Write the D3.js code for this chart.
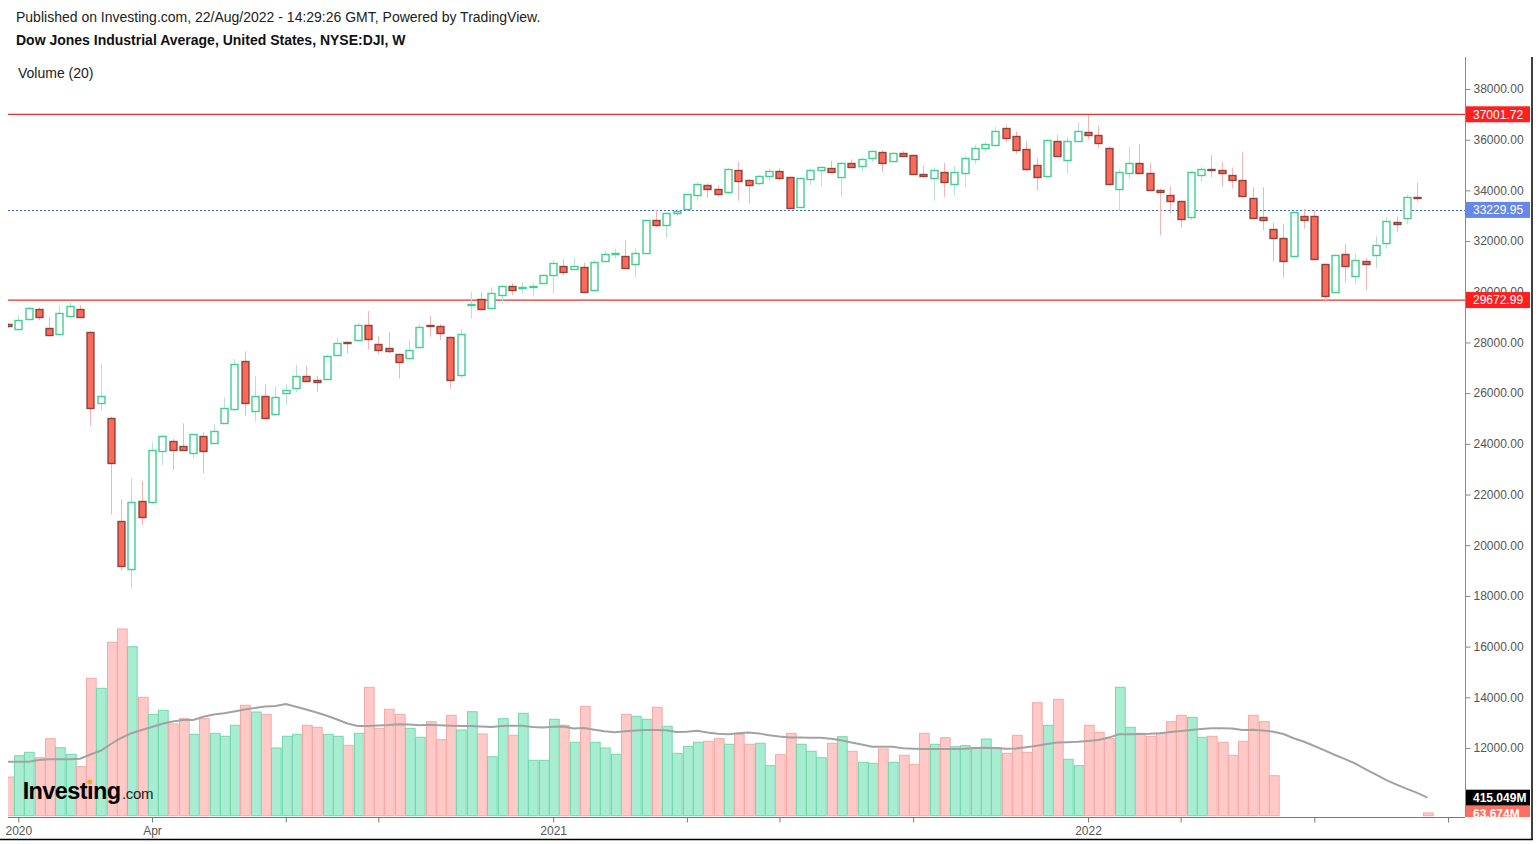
<!DOCTYPE html>
<html>
<head>
<meta charset="utf-8">
<script src="https://cdn.jsdelivr.net/npm/d3@7"></script>
<style>
  html, body { margin: 0; padding: 0; background: #fff; }
  svg { display: block; font-family: Arial, "Liberation Sans", sans-serif; }
</style>
</head>
<body>
<svg id="chart" width="1540" height="844"></svg>
<script>
// weekly bars from Dec 30 2019 to Aug 22 2022 (the first one is half cut at the left edge)
const weeks = d3.timeMonday.range(new Date(2019, 11, 30), new Date(2022, 7, 23));

// OHLC, one value per week (Dec 30 2019 .. Aug 15 2022)
const openVals = [28710,28503,28914,29308,28559,28322,29044,29320,28425,25623,25008,20968,19050,21733,21705,23706,24124,23903,23627,24298,
  24061,24811,25363,27280,25308,25900,25177,26018,26231,26689,26500,26547,27533,28006,28097,28701,27939,27770,27533,27387,
  27833,28690,28650,28204,26728,29466,29700,29348,29872,30240,30149,30190,30334,30634,31028,30898,30989,30058,31214,31478,
  31399,31084,31518,32820,32622,33120,33254,33790,34201,34055,33924,34804,34422,34264,34579,34777,34516,33333,34449,34792,
  34871,34540,35092,34974,35250,35526,35171,35487,35396,34666,34457,34737,34272,34670,35219,35672,35806,36446,36126,35633,
  35005,34579,35952,35219,35952,36311,36193,35672,34047,34686,35100,34698,34031,33830,33565,32966,34631,34844,34792,34607,
  34390,33700,32938,32484,32125,31431,32978,32989,31084,29991,31498,30630,31218,31482,31952,32764,32910,33750];
const highVals = [28770,29083,29411,29387,28993,29478,29584,29478,28440,27150,25071,21812,22641,22534,24061,24340,24191,24811,24400,24455,
  24755,25836,27347,27651,26665,26349,26270,26349,27111,27071,26677,27505,28204,28030,28795,29241,28267,28401,27560,28097,
  28728,29044,28728,28230,28519,29979,29979,30176,30260,30346,30385,30333,30680,31253,31293,31320,31147,31253,31608,31687,
  32042,31715,32850,33226,33130,33254,33870,34319,34280,34212,34880,35132,34449,34600,34871,34871,34540,34516,34871,34930,
  35159,35132,35226,35305,35580,35580,35520,35550,35420,34962,34899,35084,34950,35364,35806,35913,36513,36591,36327,35952,
  35274,36010,36193,36098,36686,36960,36552,35723,34832,35723,35830,35084,34070,34165,33600,34760,34927,35392,35112,34899,
  35526,34126,34126,32725,32686,33200,33270,33230,31110,31480,31896,31498,31324,32192,32926,32966,33830,34311];
const lowVals = [28590,28472,28880,28886,28227,28300,29000,28953,24716,25296,21220,18995,18301,20798,21600,23165,22968,23718,23430,22838,
  24000,24780,25268,25110,24874,25000,25100,25544,26034,26452,26045,26500,27480,27572,28050,27730,27517,27572,26570,27300,
  27800,28227,28097,26176,26600,28953,29280,29300,29506,29872,29912,29805,30300,29912,30650,30850,29940,29990,31180,31320,
  30920,30571,31480,32567,32133,32978,33200,33593,33711,33751,33845,33593,33490,34200,34382,34410,33254,33300,34212,34173,
  34700,33751,34900,34737,35120,34737,35100,35350,34600,34500,33593,33739,33806,34126,35033,35499,35750,35913,35432,34765,
  33991,34540,35297,34658,35900,36000,35660,34200,33191,34473,34631,34003,32232,33096,32536,32830,34339,34524,34153,34070,
  33740,32880,32429,31190,30563,31336,32496,31270,29588,29950,30362,30299,30070,30922,31699,32366,32658,33565];
const closeVals = [28650,28874,29348,28993,28282,29150,29450,28993,25442,25900,23217,19180,21694,21086,23769,24298,23785,23745,24388,23690,
  24519,25402,27150,25611,25900,25047,25848,26124,26689,26507,26440,27454,27990,27967,28701,28148,27703,27663,27217,27714,
  28610,28660,28362,26507,28346,29506,29292,29940,30240,30070,30200,30240,30650,31123,30807,31028,30018,31174,31478,31530,
  30938,31530,32820,32634,33096,33187,33845,34240,34055,33869,34832,34382,34224,34556,34777,34489,33277,34477,34816,34911,
  34713,35092,34934,35238,35542,35108,35487,35384,34635,34568,34792,34323,34737,35274,35672,35818,36351,36071,35566,34844,
  34540,35992,35353,35952,36351,36177,35885,34232,34737,35084,34725,34031,33936,33593,32871,34737,34859,34792,34658,34406,
  33767,32910,32816,32137,31202,33163,32832,31297,29817,31459,31028,31269,31111,31857,32804,32697,33739,33700];

// weekly volume in millions (null = no volume published that week)
const volumeVals = [892,1383,1462,1337,1776,1568,1416,1130,3168,2938,3999,4305,3897,2730,2338,2430,2115,2237,1877,2237,
  1900,1831,2085,2546,2391,2338,1561,1831,1877,2085,2038,1877,1831,1623,1900,2961,2015,2454,2338,2015,
  1808,2168,1753,2315,1976,2398,1884,1360,2237,1854,2361,1277,1277,2223,2085,1693,2523,1693,1561,1416,
  2338,2292,2223,2500,2062,1439,1600,1693,1716,1776,1647,1877,1647,1670,1153,1407,1900,1647,1485,1337,
  1670,1822,1485,1231,1208,1538,1231,1393,1185,1900,1647,1799,1591,1614,1561,1769,1561,1439,1854,1462,
  2606,2085,2684,1301,1153,2085,1923,1776,2961,2038,1900,1831,1900,2168,2315,2269,1808,1831,1693,1393,
  1716,2315,2168,922,null,null,null,null,null,null,null,null,null,null,null,null,null,null,63.674];

// Volume (20) moving average line, millions
const volumeMA = [1245,1245,1245,1284,1301,1301,1301,1314,1411,1497,1653,1792,1902,1976,2045,2119,2172,2207,2207,2281,
  2334,2364,2403,2447,2484,2518,2530,2573,2514,2449,2380,2306,2218,2126,2068,2068,2080,2092,2110,2103,
  2085,2096,2087,2075,2068,2068,2057,2045,2068,2075,2073,2045,2032,2050,2055,2009,2022,1983,1946,1923,
  1946,1965,1976,1976,1969,1930,1937,1958,1916,1891,1877,1902,1921,1898,1854,1826,1806,1801,1799,1799,
  1773,1739,1686,1642,1591,1591,1589,1557,1545,1538,1538,1538,1538,1545,1561,1566,1563,1545,1547,1577,
  1612,1653,1686,1695,1704,1723,1746,1801,1877,1879,1884,1889,1902,1928,1951,1976,1999,2015,2015,2009,
  1976,1981,1965,1937,1882,1787,1704,1607,1506,1400,1303,1199,1070,945,819,717,620,526,415.049];

const priceTicks = d3.range(12000, 38001, 2000);
const tickDates = [new Date(2020,0,6), new Date(2020,3,6), new Date(2020,6,6), new Date(2020,8,7),
  new Date(2021,0,4), new Date(2021,3,5), new Date(2021,5,7), new Date(2021,8,6),
  new Date(2022,0,3), new Date(2022,2,7), new Date(2022,5,6), new Date(2022,8,5)];
const tickLabels = ['2020','Apr','','','2021','','','','2022','','',''];

// horizontal levels drawn on the chart
const resistanceLevel = 37001.72;
const supportLevel = 29672.99;
const lastPrice = 33229.95;

// ---- layout ----
const svg = d3.select('#chart');
const plotLeft = 8, plotRight = 1465, plotTop = 57, axisY = 817;
const step = 10.286;

const x = d3.scaleTime()
  .domain([weeks[1], weeks[138]])
  .range([18.3, 18.3 + 137 * step]);
const yPrice = d3.scaleLinear().domain([12000, 38000]).range([748, 89]);
const yVol = d3.scaleLinear().domain([0, 4305]).range([815.7, 629]);

const candles = openVals.map((o, i) => ({
  date: weeks[i], open: o, high: highVals[i], low: lowVals[i], close: closeVals[i]
}));
const vols = volumeVals.map((v, i) => ({
  date: weeks[i], vol: v, ma: volumeMA[i],
  up: i < candles.length ? candles[i].close >= candles[i].open : false
}));

svg.append('defs').append('clipPath').attr('id', 'plotClip')
  .append('rect').attr('x', plotLeft).attr('y', plotTop)
  .attr('width', plotRight - plotLeft).attr('height', axisY - plotTop);

// header
svg.append('text').attr('x', 16).attr('y', 22).attr('font-size', 14).attr('fill', '#222')
  .text('Published on Investing.com, 22/Aug/2022 - 14:29:26 GMT, Powered by TradingView.');
svg.append('text').attr('x', 16).attr('y', 45).attr('font-size', 14).attr('font-weight', 'bold').attr('fill', '#111')
  .text('Dow Jones Industrial Average, United States, NYSE:DJI, W');
svg.append('text').attr('x', 18).attr('y', 78).attr('font-size', 14).attr('fill', '#222')
  .text('Volume (20)');

const plot = svg.append('g').attr('clip-path', 'url(#plotClip)');

// volume bars
plot.append('g').selectAll('rect')
  .data(vols.filter(d => d.vol != null))
  .enter().append('rect')
  .attr('x', d => Math.round(x(d.date) - step / 2 + 1) + 0.5)
  .attr('y', d => yVol(d.vol))
  .attr('width', step - 0.6)
  .attr('height', d => yVol(0) - yVol(d.vol))
  .attr('fill', d => d.up ? '#a8ecd1' : '#ffc9c7')
  .attr('stroke', d => d.up ? '#74d9ad' : '#f6aaa6')
  .attr('stroke-width', 1);

// volume moving average
plot.append('path')
  .datum(vols)
  .attr('fill', 'none')
  .attr('stroke', '#a2a2a2')
  .attr('stroke-width', 2)
  .attr('d', d3.line().x(d => x(d.date)).y(d => yVol(d.ma)));

// Investing.com logo
const logo = svg.append('text').attr('x', 22.7).attr('y', 799)
  .attr('font-size', 23.5).attr('font-weight', 'bold').attr('fill', '#000')
  .attr('letter-spacing', -0.6)
  .text('Invest\u0131ng');
const dotBox = logo.node().getExtentOfChar(6);
svg.append('circle')
  .attr('cx', dotBox.x + dotBox.width / 2 - 0.3)
  .attr('cy', 799 - 17)
  .attr('r', 2.5)
  .attr('fill', '#f5a623');
svg.append('text').attr('x', 22.7 + logo.node().getComputedTextLength() + 1.5).attr('y', 799)
  .attr('font-size', 15).attr('fill', '#222').attr('letter-spacing', -0.3)
  .text('.com');

// horizontal levels
plot.append('line').attr('x1', plotLeft).attr('x2', plotRight)
  .attr('y1', yPrice(resistanceLevel)).attr('y2', yPrice(resistanceLevel))
  .attr('stroke', '#e8302c').attr('stroke-width', 1.3);
plot.append('line').attr('x1', plotLeft).attr('x2', plotRight)
  .attr('y1', yPrice(supportLevel)).attr('y2', yPrice(supportLevel))
  .attr('stroke', '#e8302c').attr('stroke-width', 1.3);
plot.append('line').attr('x1', plotLeft).attr('x2', plotRight)
  .attr('y1', Math.round(yPrice(lastPrice)) + 0.5).attr('y2', Math.round(yPrice(lastPrice)) + 0.5)
  .attr('stroke', '#3f6bd8').attr('stroke-width', 1).attr('stroke-dasharray', '2,2');

// candles: wicks first, then bodies
const cg = plot.append('g');
cg.selectAll('line.wick')
  .data(candles)
  .enter().append('line')
  .attr('class', 'wick')
  .attr('x1', d => Math.round(x(d.date)) + 0.5)
  .attr('x2', d => Math.round(x(d.date)) + 0.5)
  .attr('y1', d => yPrice(d.high))
  .attr('y2', d => yPrice(d.low))
  .attr('stroke', d => d.close >= d.open ? '#b8e2d6' : '#f7b3b3')
  .attr('stroke-width', 1);

cg.selectAll('rect.body')
  .data(candles)
  .enter().append('rect')
  .attr('class', 'body')
  .attr('x', d => Math.round(x(d.date)) - 3)
  .attr('y', d => Math.round(yPrice(Math.max(d.open, d.close))) + 0.5)
  .attr('width', 7)
  .attr('height', d => Math.max(1, Math.round(Math.abs(yPrice(d.open) - yPrice(d.close)))))
  .attr('fill', d => d.close >= d.open ? '#ffffff' : '#fa6a5b')
  .attr('stroke', d => d.close >= d.open ? '#3fd08e' : '#7e3129')
  .attr('stroke-opacity', d => d.close >= d.open ? 1 : 0.85)
  .attr('stroke-width', 1.4);

// price axis
svg.append('line').attr('x1', plotRight + 0.5).attr('x2', plotRight + 0.5)
  .attr('y1', plotTop).attr('y2', axisY)
  .attr('stroke', '#8a8a8a').attr('stroke-width', 1);

const yAxis = svg.append('g')
  .attr('transform', `translate(${plotRight + 0.5},0)`)
  .call(d3.axisRight(yPrice).tickValues(priceTicks).tickFormat(d3.format('.2f')).tickSize(5).tickPadding(3));
yAxis.select('.domain').remove();
yAxis.selectAll('line').attr('stroke', '#8a8a8a');
yAxis.selectAll('text').attr('fill', '#555').attr('font-size', 12)
  .attr('font-family', 'Arial, "Liberation Sans", sans-serif');

// x axis
svg.append('line').attr('x1', plotLeft).attr('x2', plotRight)
  .attr('y1', axisY + 0.5).attr('y2', axisY + 0.5)
  .attr('stroke', '#777').attr('stroke-width', 1);
const xAxis = svg.append('g')
  .attr('transform', `translate(0,${axisY + 0.5})`)
  .call(d3.axisBottom(x).tickValues(tickDates).tickFormat((d, i) => tickLabels[i]).tickSize(5).tickPadding(4));
xAxis.select('.domain').remove();
xAxis.selectAll('line').attr('stroke', '#777');
xAxis.selectAll('text').attr('fill', '#555').attr('font-size', 12)
  .attr('font-family', 'Arial, "Liberation Sans", sans-serif');

// value tags on the price axis
svg.append('defs').append('clipPath').attr('id', 'tagClip')
  .append('rect').attr('x', plotRight).attr('y', plotTop).attr('width', 70).attr('height', axisY - plotTop);
const tags = svg.append('g').attr('clip-path', 'url(#tagClip)');
function tag(yc, label, bg, bold) {
  tags.append('rect').attr('x', plotRight + 1).attr('y', yc - 8)
    .attr('width', 64).attr('height', 16).attr('fill', bg);
  tags.append('text').attr('x', plotRight + 8).attr('y', yc + 4.3)
    .attr('font-size', 12).attr('fill', '#fff')
    .attr('font-weight', bold ? 'bold' : 'normal')
    .text(label);
}
tag(yPrice(resistanceLevel), d3.format('.2f')(resistanceLevel), '#ff1f1f');
tag(yPrice(lastPrice), d3.format('.2f')(lastPrice), '#6787e6');
tag(yPrice(supportLevel), d3.format('.2f')(supportLevel), '#ff1f1f');
const maLast = volumeMA[volumeMA.length - 1];
const volLast = volumeVals[volumeVals.length - 1];
tag(yVol(maLast), d3.format('.3f')(maLast) + 'M', '#000', true);
tag(yVol(maLast) + 16, d3.format('.3f')(volLast) + 'M', '#ff6f61', true);

// frame
svg.append('line').attr('x1', 1532).attr('x2', 1532).attr('y1', plotTop).attr('y2', 840)
  .attr('stroke', '#000').attr('stroke-width', 1.5);
svg.append('line').attr('x1', 0).attr('x2', 1532.75).attr('y1', 839.5).attr('y2', 839.5)
  .attr('stroke', '#000').attr('stroke-width', 1.5);
</script>
</body>
</html>
